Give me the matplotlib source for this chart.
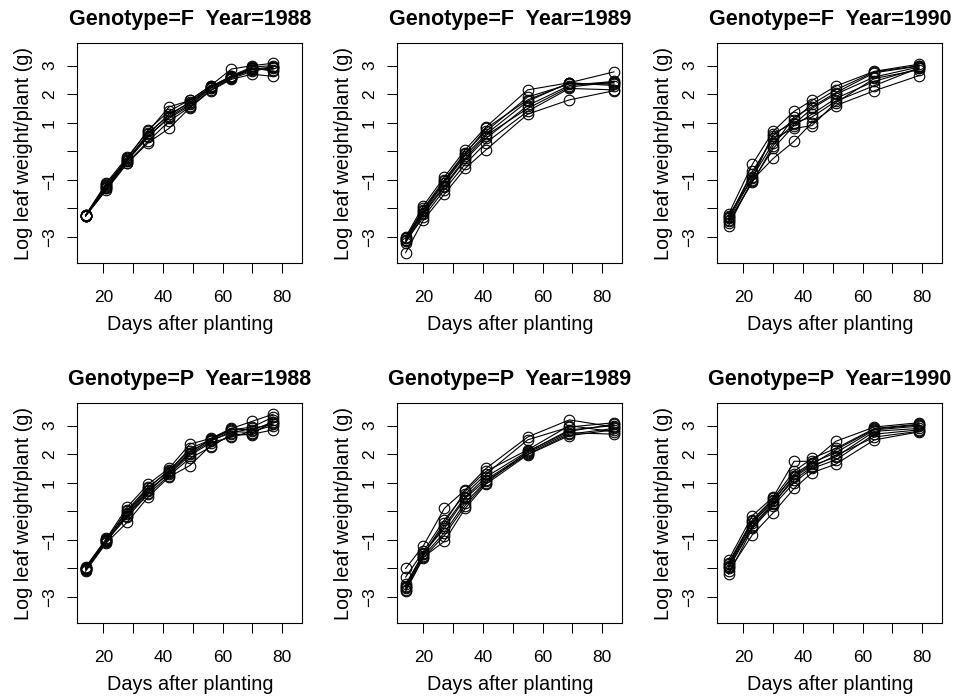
import matplotlib
matplotlib.use("Agg")
import matplotlib.pyplot as plt

plt.rcParams["font.family"] = ["Liberation Sans", "DejaVu Sans"]

# Sampling days after planting for each growing season
days_1988 = [14, 21, 28, 35, 42, 49, 56, 63, 70, 77]
days_1989 = [14, 20, 27, 34, 41, 55, 69, 84]
days_1990 = [15, 23, 30, 37, 43, 51, 64, 79]

# Log leaf weight per plant (g), one row per plot
F_1988 = [
    [-2.24, -1.10, -0.20, 0.70, 1.55, 1.78, 2.30, 2.88, 3.00, 3.08],
    [-2.26, -1.20, -0.30, 0.60, 1.30, 1.70, 2.25, 2.65, 2.95, 3.00],
    [-2.25, -1.30, -0.40, 0.35, 1.05, 1.55, 2.15, 2.55, 2.80, 2.95],
    [-2.23, -1.15, -0.25, 0.75, 1.40, 1.80, 2.28, 2.60, 2.90, 2.85],
    [-2.27, -1.35, -0.42, 0.30, 0.80, 1.52, 2.12, 2.52, 2.70, 2.62],
    [-2.25, -1.25, -0.33, 0.50, 1.20, 1.65, 2.20, 2.58, 2.85, 2.90],
    [-2.24, -1.18, -0.28, 0.55, 1.15, 1.60, 2.22, 2.62, 2.92, 2.80],
    [-2.26, -1.28, -0.35, 0.65, 1.25, 1.72, 2.25, 2.60, 2.88, 2.95],
]
F_1989 = [
    [-3.00, -1.90, -0.90, 0.05, 0.85, 2.15, 2.40, 2.78],
    [-3.05, -2.00, -1.00, -0.05, 0.70, 1.90, 2.35, 2.40],
    [-3.10, -2.10, -1.10, -0.15, 0.60, 1.75, 2.40, 2.30],
    [-3.20, -2.20, -1.25, -0.30, 0.45, 1.60, 2.30, 2.45],
    [-3.15, -2.30, -1.35, -0.45, 0.30, 1.40, 2.20, 2.15],
    [-3.55, -2.40, -1.50, -0.60, 0.05, 1.30, 1.80, 2.12],
    [-3.05, -2.05, -1.05, -0.10, 0.80, 1.80, 2.38, 2.35],
    [-3.12, -2.15, -1.20, -0.25, 0.55, 1.50, 2.25, 2.42],
]
F_1990 = [
    [-2.20, -0.45, 0.70, 1.40, 1.78, 2.28, 2.80, 3.05],
    [-2.30, -0.80, 0.55, 1.10, 1.65, 2.15, 2.78, 3.00],
    [-2.40, -0.90, 0.30, 0.95, 1.50, 2.00, 2.60, 2.95],
    [-2.50, -1.05, 0.10, 0.90, 1.30, 1.85, 2.45, 2.90],
    [-2.60, -1.00, -0.25, 0.35, 1.00, 1.60, 2.12, 2.65],
    [-2.25, -0.95, 0.62, 1.00, 1.20, 1.75, 2.30, 2.92],
    [-2.35, -0.70, 0.45, 0.80, 0.90, 1.70, 2.55, 2.85],
    [-2.45, -1.08, 0.20, 1.20, 1.55, 2.05, 2.75, 2.98],
]
P_1988 = [
    [-1.95, -0.95, 0.15, 0.95, 1.50, 2.35, 2.55, 2.90, 3.15, 3.40],
    [-2.00, -1.00, 0.05, 0.85, 1.40, 2.20, 2.50, 2.85, 2.95, 3.30],
    [-2.05, -1.05, -0.10, 0.70, 1.35, 2.00, 2.45, 2.80, 2.75, 3.10],
    [-2.10, -1.10, -0.38, 0.50, 1.20, 1.60, 2.30, 2.65, 2.70, 2.85],
    [-1.98, -0.98, 0.00, 0.80, 1.45, 2.10, 2.48, 2.75, 2.90, 3.05],
    [-2.02, -1.02, -0.20, 0.60, 1.25, 1.85, 2.25, 2.70, 2.68, 3.20],
    [-1.97, -1.08, -0.05, 0.75, 1.30, 1.95, 2.40, 2.60, 2.80, 3.00],
    [-2.03, -1.03, -0.15, 0.65, 1.38, 2.05, 2.52, 2.88, 2.85, 3.12],
]
P_1989 = [
    [-2.00, -1.20, 0.10, 0.75, 1.50, 2.60, 3.20, 2.95],
    [-2.30, -1.40, -0.30, 0.60, 1.30, 2.50, 2.95, 3.10],
    [-2.55, -1.50, -0.50, 0.50, 1.20, 2.10, 2.80, 3.05],
    [-2.65, -1.55, -0.75, 0.30, 1.05, 2.00, 2.70, 2.90],
    [-2.75, -1.60, -1.05, 0.10, 0.95, 1.98, 2.65, 2.85],
    [-2.60, -1.45, -0.60, 0.45, 1.10, 2.05, 2.75, 2.70],
    [-2.80, -1.62, -0.85, 0.20, 1.00, 2.08, 2.85, 3.00],
    [-2.70, -1.50, -0.40, 0.70, 1.40, 2.15, 3.00, 2.78],
]
P_1990 = [
    [-1.70, -0.15, 0.50, 1.75, 1.75, 2.45, 2.95, 3.10],
    [-1.80, -0.30, 0.45, 1.40, 1.85, 2.20, 2.90, 3.05],
    [-1.90, -0.40, 0.35, 1.30, 1.70, 2.05, 2.85, 2.98],
    [-2.00, -0.55, 0.25, 1.20, 1.60, 1.90, 2.80, 2.90],
    [-2.10, -0.82, -0.05, 0.80, 1.35, 1.65, 2.50, 2.78],
    [-2.20, -0.60, 0.20, 1.00, 1.50, 1.80, 2.70, 2.85],
    [-1.85, -0.35, 0.40, 1.25, 1.65, 2.15, 2.88, 3.02],
    [-1.95, -0.50, 0.30, 1.10, 1.55, 1.95, 2.60, 2.80],
]

genotypes = ["F", "P"]
years = [1988, 1989, 1990]
days_by_year = {1988: days_1988, 1989: days_1989, 1990: days_1990}
weights = {
    ("F", 1988): F_1988, ("F", 1989): F_1989, ("F", 1990): F_1990,
    ("P", 1988): P_1988, ("P", 1989): P_1989, ("P", 1990): P_1990,
}

x_ticks = [20, 30, 40, 50, 60, 70, 80]
x_ticklabels = ["20", "", "40", "", "60", "", "80"]
y_ticks = [-3, -2, -1, 0, 1, 2, 3]
y_ticklabels = ["\u22123", "", "\u22121", "", "1", "2", "3"]

W, H = 955, 698
fig = plt.figure(figsize=(W / 100, H / 100), dpi=100)

col_left = [77.3, 397.3, 717.3]
row_top = [43.3, 403.3]
box_w, box_h = 225.0, 220.0

for r, g in enumerate(genotypes):
    for c, yr in enumerate(years):
        ax = fig.add_axes([col_left[c] / W, (H - row_top[r] - box_h) / H,
                           box_w / W, box_h / H])
        days = days_by_year[yr]
        for plot_vals in weights[(g, yr)]:
            ax.plot(days, plot_vals, color="black", lw=0.8,
                    marker="o", ms=7.6, mfc="none", mec="black", mew=0.8)
        ax.set_xlim(11.2, 86.8)
        ax.set_ylim(-3.92, 3.78)
        ax.set_xticks(x_ticks)
        ax.set_xticklabels(x_ticklabels)
        ax.set_yticks(y_ticks)
        # y tick labels run parallel to the axis, centred on their ticks
        ax.set_yticklabels(y_ticklabels, rotation=90, rotation_mode="anchor",
                           ha="center", va="baseline")
        ax.tick_params(axis="both", direction="out", length=7.2, width=0.75,
                       labelsize=12.5, color="black")
        ax.tick_params(axis="x", pad=12)
        ax.tick_params(axis="y", pad=9.6)
        for sp in ax.spines.values():
            sp.set_linewidth(0.8)
        ax.set_xlabel("Days after planting", fontsize=14.3, labelpad=7)
        ax.set_ylabel("Log leaf weight/plant (g)", fontsize=14.3)
        ax.yaxis.set_label_coords(-0.199, 0.5)
        ax.set_title(f"Genotype={g}  Year={yr}", fontsize=15.5,
                     fontweight="bold", pad=13)

fig.savefig("out.png", dpi=100)
